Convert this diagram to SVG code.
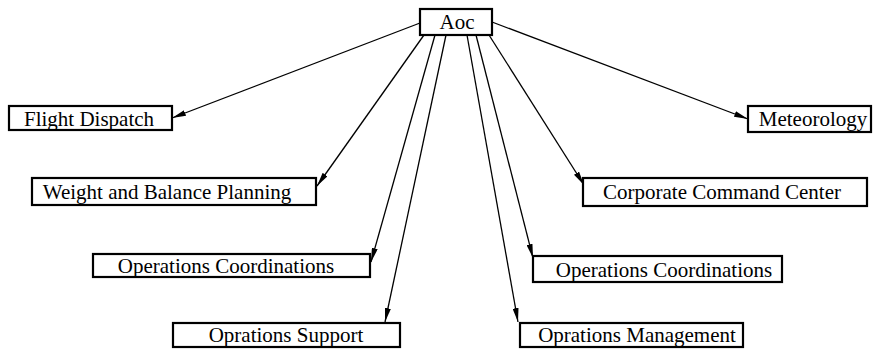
<svg xmlns="http://www.w3.org/2000/svg" width="873" height="354" viewBox="0 0 873 354">
  <style>
    .box { fill: #ffffff; stroke: #000000; stroke-width: 2.2; }
    .lbl { font-family: 'Liberation Serif', 'Times New Roman', Times, 'DejaVu Serif', serif; font-size: 21px; fill: #000000; text-anchor: middle; }
    .link { stroke: #000000; stroke-width: 1.3; fill: none; marker-end: url(#arrow); }
  </style>
  <defs>
    <marker id="arrow" markerUnits="userSpaceOnUse" viewBox="0 0 14 6" refX="14" refY="3" markerWidth="14" markerHeight="6" orient="auto">
      <path d="M0,0 L14,3 L0,6 Z" fill="#000000"/>
    </marker>
  </defs>

  <g id="connectors">
    <line class="link" x1="420" y1="23" x2="172" y2="118"/>
    <line class="link" x1="492" y1="22" x2="748" y2="119"/>
    <line class="link" x1="424" y1="35" x2="317" y2="186"/>
    <line class="link" x1="435" y1="35" x2="371" y2="262"/>
    <line class="link" x1="446" y1="35" x2="385" y2="322"/>
    <line class="link" x1="467" y1="35" x2="518" y2="322"/>
    <line class="link" x1="476" y1="35" x2="533" y2="258"/>
    <line class="link" x1="489" y1="35" x2="584" y2="185"/>
  </g>

  <g font-family="Liberation Serif, serif">
  <g id="aoc">
    <rect class="box" x="420" y="9" width="72" height="26"/>
    <text class="lbl" x="457" y="29">Aoc</text>
  </g>
  <g id="flight-dispatch">
    <rect class="box" x="9" y="106" width="163" height="24"/>
    <text class="lbl" x="89" y="126">Flight Dispatch</text>
  </g>
  <g id="weight-balance">
    <rect class="box" x="32" y="178" width="284" height="27"/>
    <text class="lbl" x="167" y="199">Weight and Balance Planning</text>
  </g>
  <g id="operations-coordinations-left">
    <rect class="box" x="93" y="254" width="277" height="23"/>
    <text class="lbl" x="226" y="273">Operations Coordinations</text>
  </g>
  <g id="oprations-support">
    <rect class="box" x="173" y="323" width="227" height="24"/>
    <text class="lbl" x="286" y="342">Oprations Support</text>
  </g>
  <g id="oprations-management">
    <rect class="box" x="520" y="323" width="223" height="24"/>
    <text class="lbl" x="637" y="342">Oprations Management</text>
  </g>
  <g id="operations-coordinations-right">
    <rect class="box" x="533" y="256" width="249" height="26"/>
    <text class="lbl" x="664" y="277">Operations Coordinations</text>
  </g>
  <g id="corporate-command-center">
    <rect class="box" x="583" y="178" width="284" height="28"/>
    <text class="lbl" x="722" y="199">Corporate Command Center</text>
  </g>
  <g id="meteorology">
    <rect class="box" x="748" y="106" width="123" height="26"/>
    <text class="lbl" x="813" y="126">Meteorology</text>
  </g>
  </g>
</svg>
